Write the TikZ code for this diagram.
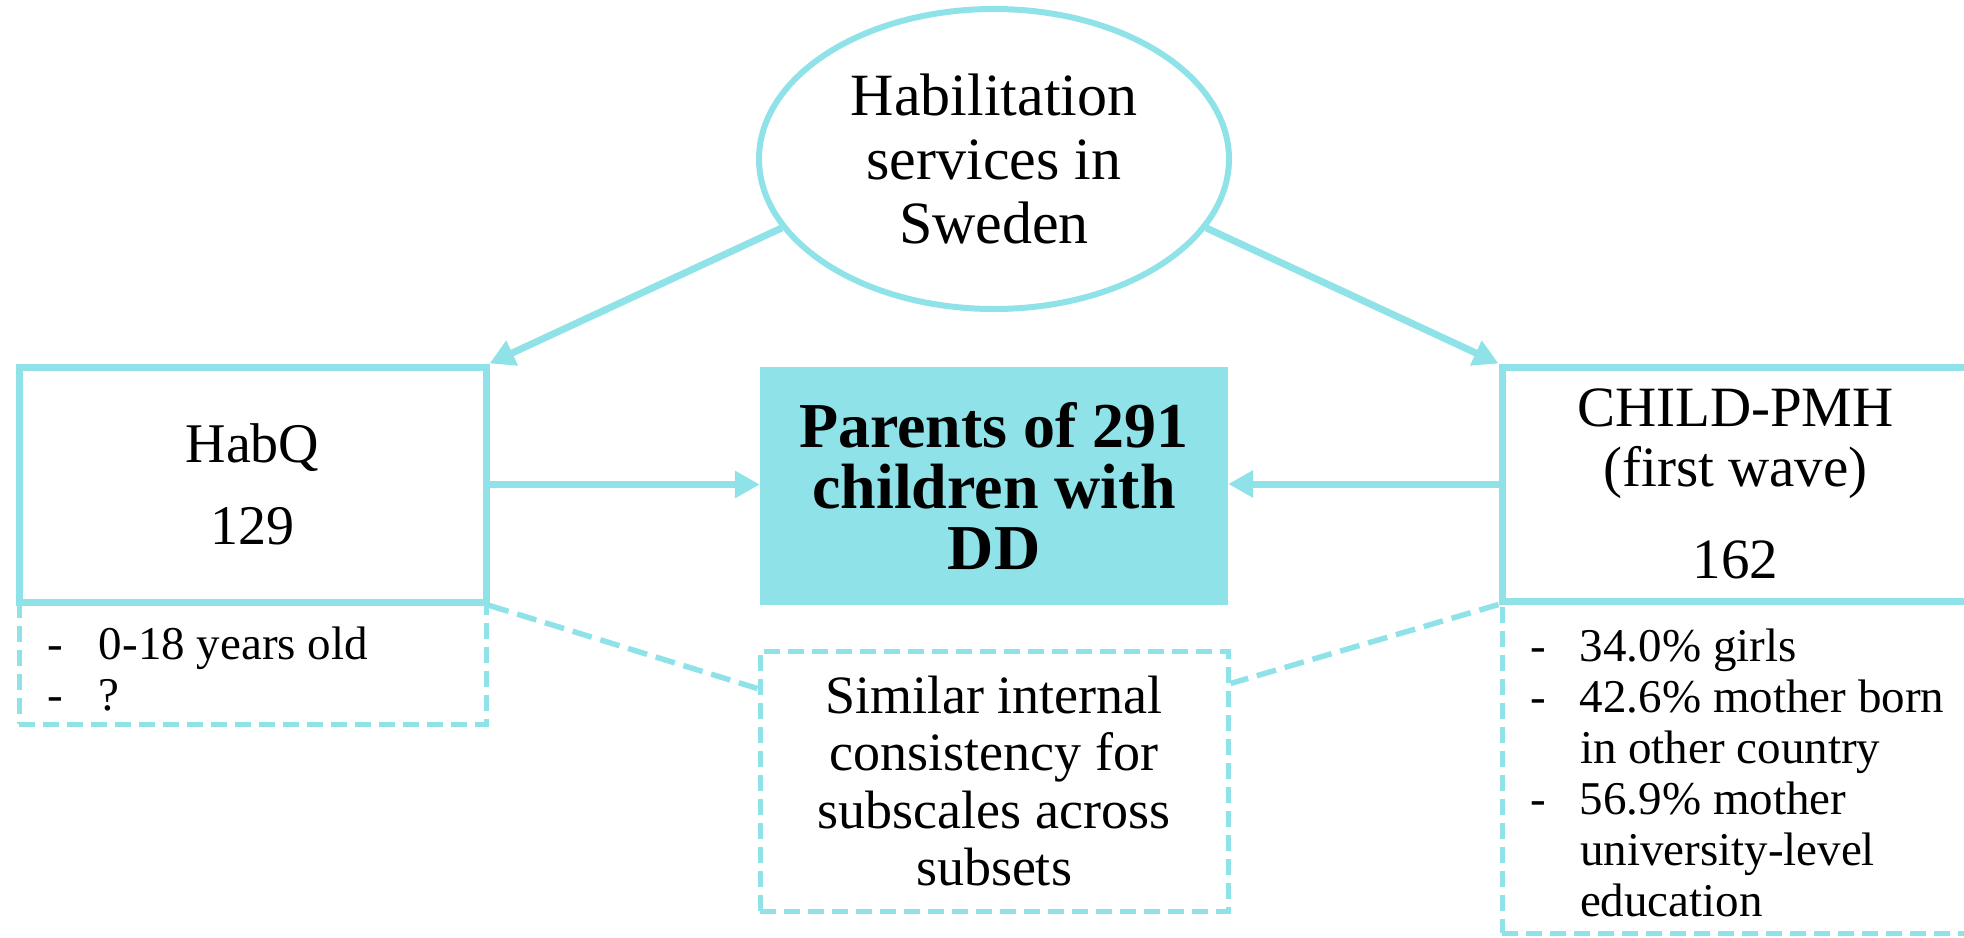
\documentclass[tikz,border=0pt]{standalone}
\usepackage{fontspec}
\setmainfont{Liberation Serif}
\usetikzlibrary{positioning,shapes,arrows.meta,calc}
\definecolor{habcyan}{HTML}{8EE2E8}

\begin{document}
\begin{tikzpicture}[x=1pt, y=-1pt,
    box/.style={draw=habcyan, fill=white, line width=7pt, minimum width=467pt, inner sep=0pt, align=center},
    infobox/.style={draw=habcyan, line width=5pt, dash pattern=on 16pt off 8pt, minimum width=467pt, inner sep=0pt},
    bullets/.style={font=\fontsize{47}{51}\selectfont},
    link/.style={draw=habcyan, line width=7pt, -{Triangle[length=25pt,width=26pt]}},
    dashlink/.style={draw=habcyan, line width=5.5pt, dash pattern=on 20pt off 9pt}]
    \useasboundingbox (0,0) rectangle (1964,937);

    \node[infobox, bullets, minimum height=122pt] (habqinfo) at (252.5,663)
      {\raisebox{-12pt}[\height][\depth]{\makebox[411pt][l]{\begin{tabular}{@{}p{52pt}@{}l@{}}
        - & 0-18 years old\\
        - & ?
      \end{tabular}}}};
    \node[infobox, bullets, minimum height=332pt] (childinfo) at (1735.5,767)
      {\raisebox{-12pt}[\height][\depth]{\makebox[411pt][l]{\begin{tabular}{@{}p{50pt}@{}l@{}}
        - & 34.0\% girls\\
        - & 42.6\% mother born\\
          & in other country\\
        - & 56.9\% mother\\
          & university-level\\
          & education
      \end{tabular}}}};

    \node[box, minimum height=235pt, font=\fontsize{56}{58}\selectfont] (habq) at (252.5,484.5)
      {HabQ\\[24pt]129};
    \node[box, minimum height=234pt, font=\fontsize{57}{60}\selectfont] (child) at (1735.5,484)
      {CHILD-PMH\\(first wave)\\[32pt]162};
    \node[fill=habcyan, minimum width=468pt, minimum height=238pt, inner sep=0pt, align=center,
      font=\bfseries\fontsize{64}{61}\selectfont] (pop) at (994,486)
      {Parents of 291\\children with\\DD};
    \node[infobox, minimum width=468pt, minimum height=260pt, align=center,
      font=\fontsize{54}{57.6}\selectfont] (sim) at (994,781)
      {Similar internal\\consistency for\\subscales across\\subsets};
    \node[draw=habcyan, line width=6pt, ellipse, minimum width=470pt, minimum height=300pt,
      inner sep=0pt, align=center, font=\fontsize{60}{64}\selectfont] (hab) at (994,159)
      {Habilitation\\services in\\Sweden};

    \draw[link] (hab.198) -- (habq.north east);
    \draw[link] (hab.342) -- (child.north west);
    \draw[link] (habq.east) -- (habq.east -| pop.west);
    \draw[link] (child.west) -- (child.west -| pop.east);
    \draw[dashlink] (habq.south east) -- ([yshift=-40pt]sim.north west);
    \draw[dashlink] (child.south west) -- ([yshift=-35pt]sim.north east);
\end{tikzpicture}
\end{document}
